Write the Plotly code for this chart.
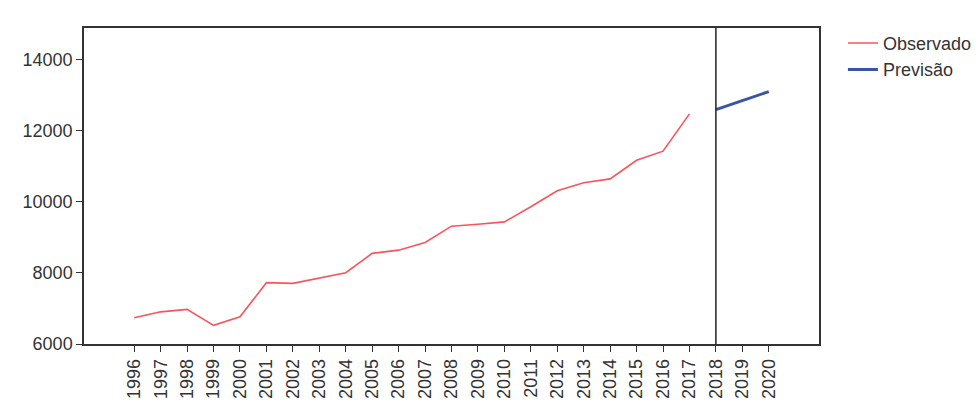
import plotly.graph_objects as go

anos_obs = list(range(1996, 2018))
observado = [6740, 6905, 6975, 6525, 6765, 7725, 7705, 7865, 8005, 8550,
             8640, 8855, 9315, 9370, 9435, 9860, 10310, 10535, 10645, 11170,
             11425, 12475]

anos_prev = [2018, 2019, 2020]
previsao = [12595, 12850, 13100]

anos_ticks = list(range(1996, 2021))
y_ticks = [6000, 8000, 10000, 12000, 14000]

fonte = dict(family="Liberation Sans, Arial, sans-serif", size=18, color="#333333")

fig = go.Figure()
fig.add_trace(go.Scatter(x=anos_obs, y=observado, mode="lines", name="Observado",
                         line=dict(color="#f8545c", width=1.6)))
fig.add_trace(go.Scatter(x=anos_prev, y=previsao, mode="lines", name="Previsão",
                         line=dict(color="#3a55a8", width=3)))

# reference line at start of forecast
fig.add_vline(x=2018, line=dict(color="#222222", width=1.5))

# the page body adds 8px, so margins are shifted to land the plot where it should
fig.update_layout(
    width=980, height=420,
    margin=dict(l=76, r=169, t=20, b=84),
    paper_bgcolor="white", plot_bgcolor="white",
    font=fonte,
    showlegend=True,
    legend=dict(xref="container", x=0.852, xanchor="left",
                yref="container", y=0.96, yanchor="top",
                bgcolor="rgba(0,0,0,0)", tracegroupgap=0,
                font=fonte, itemwidth=30),
)
fig.update_xaxes(range=[1994.1, 2021.9], tickmode="array", tickvals=anos_ticks,
                 ticktext=[str(a) for a in anos_ticks], tickangle=-90,
                 showgrid=False, zeroline=False,
                 showline=True, linecolor="#333333", linewidth=1.5, mirror=True,
                 ticks="outside", ticklen=6, tickcolor="#333333", tickwidth=1.3)
fig.update_yaxes(range=[6000, 14890], tickmode="array", tickvals=y_ticks,
                 ticktext=[str(v) for v in y_ticks],
                 showgrid=False, zeroline=False,
                 showline=True, linecolor="#333333", linewidth=1.5, mirror=True,
                 ticks="outside", ticklen=6, tickcolor="#333333", tickwidth=1.3)

fig.write_html("out.html")
